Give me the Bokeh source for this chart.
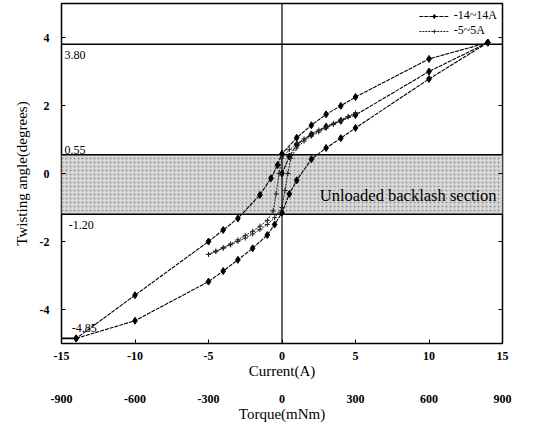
from bokeh.plotting import figure
from bokeh.models import Range1d, LinearAxis, FixedTicker, Legend, LegendItem, ColumnDataSource
from bokeh.core.properties import value
from bokeh.embed import file_html
from bokeh.resources import INLINE

SERIF = "Liberation Serif"

# ---------------- data ----------------
# -14~14A : initial loading curve, descending (upper) branch, ascending (lower) branch
a_init_i = [0, 0.5, 1, 2, 3, 4, 5, 10, 14]
a_init_t = [0.0, 0.5, 0.85, 1.15, 1.38, 1.55, 1.72, 3.0, 3.85]
a_up_i = [14, 10, 5, 4, 3, 2, 1, 0, -0.3, -0.75, -1.5, -3, -4, -5, -10, -14]
a_up_t = [3.85, 3.37, 2.25, 1.99, 1.74, 1.42, 1.05, 0.58, 0.25, -0.14, -0.63, -1.32, -1.66, -2.0, -3.58, -4.85]
a_lo_i = [-14, -10, -5, -4, -3, -2, -1, -0.5, 0, 0.5, 1, 2, 3, 4, 5, 10, 14]
a_lo_t = [-4.85, -4.33, -3.18, -2.87, -2.54, -2.2, -1.81, -1.5, -1.15, -0.6, -0.2, 0.42, 0.75, 1.04, 1.34, 2.78, 3.85]

# -5~5A loop
b_up_i = [5, 4.5, 4, 3.5, 3, 2.5, 2, 1.5, 1, 0.5, 0, -0.2, -0.4, -0.6, -1, -1.5, -2, -2.5, -3, -3.5, -4, -4.5, -5]
b_up_t = [1.78, 1.68, 1.58, 1.48, 1.38, 1.28, 1.16, 1.02, 0.88, 0.7, 0.45, 0.0, -0.6, -1.1, -1.38, -1.55, -1.7, -1.82, -1.95, -2.07, -2.18, -2.28, -2.38]
b_lo_i = [-5, -4.5, -4, -3.5, -3, -2.5, -2, -1.5, -1, -0.5, 0, 0.2, 0.4, 0.6, 1, 1.5, 2, 2.5, 3, 3.5, 4, 4.5, 5]
b_lo_t = [-2.38, -2.3, -2.2, -2.1, -2.0, -1.9, -1.78, -1.65, -1.5, -1.3, -1.0, -0.5, 0.0, 0.45, 0.75, 0.95, 1.1, 1.22, 1.33, 1.44, 1.55, 1.66, 1.78]

# reference levels
ref_y = [3.80, 0.55, -1.20, -4.85]
ref_x0 = [-15, -15, -15, -15]
ref_x1 = [15, 15, 15, -14]
ref_text = ["3.80", "0.55", "-1.20", "-4.85"]
band_lo, band_hi = -1.20, 0.55

x_ticks = [-15, -10, -5, 0, 5, 10, 15]
y_ticks = [-4, -2, 0, 2, 4]
torque_ticks = [-900, -600, -300, 0, 300, 600, 900]

# ---------------- figure ----------------
p = figure(width=530, height=424, x_range=Range1d(-15, 15), y_range=Range1d(-5, 5),
           output_backend="svg", toolbar_location=None,
           min_border_left=61, min_border_right=28, min_border_top=3, min_border_bottom=0)
p.background_fill_color = "white"
p.grid.visible = False
p.outline_line_color = "black"
p.outline_line_width = 1.5

# shaded backlash band
p.quad(left=[-15], right=[15], bottom=[band_lo], top=[band_hi],
       fill_color="#d8d8d8", line_color=None,
       hatch_pattern="dot", hatch_color="#909090", hatch_scale=4, hatch_weight=1)

# reference lines
p.segment(x0=ref_x0, y0=ref_y, x1=ref_x1, y1=ref_y, line_color="black", line_width=1.6)
p.segment(x0=[0], y0=[-5], x1=[0], y1=[5], line_color="black", line_width=1.2)

# labels of the levels
p.text(x=[-14.8, -14.5], y=[ref_y[0], ref_y[2]], text=[ref_text[0], ref_text[2]],
       text_font=value(SERIF), text_font_size="12px", text_baseline="top", y_offset=7)
p.text(x=[-14.8], y=[ref_y[1]], text=[ref_text[1]],
       text_font=value(SERIF), text_font_size="12px", text_baseline="bottom", y_offset=-1)
p.text(x=[-14.3], y=[ref_y[3]], text=[ref_text[3]],
       text_font=value(SERIF), text_font_size="12px", text_baseline="bottom", y_offset=-6)
p.text(x=[14.6], y=[-0.64], text=["Unloaded backlash section"], text_font=value(SERIF),
       text_font_size="16.5px", text_align="right", text_baseline="middle")

# series -14~14A
a_lines = []
a_marks = []
for xs, ys in [(a_init_i, a_init_t), (a_up_i, a_up_t), (a_lo_i, a_lo_t)]:
    src = ColumnDataSource(dict(x=xs, y=ys))
    a_lines.append(p.line("x", "y", source=src, line_color="black", line_width=1.1, line_dash="4 1"))
    a_marks.append(p.scatter("x", "y", source=src, marker="diamond", size=7,
                             fill_color="black", line_color="black"))

# series -5~5A
b_lines = []
b_marks = []
for xs, ys in [(b_up_i, b_up_t), (b_lo_i, b_lo_t)]:
    src = ColumnDataSource(dict(x=xs, y=ys))
    b_lines.append(p.line("x", "y", source=src, line_color="#222222", line_width=1, line_dash="2 1"))
    b_marks.append(p.scatter("x", "y", source=src, marker="cross", size=5,
                             line_color="#222222", line_width=1))

legend = Legend(items=[LegendItem(label="-14~14A", renderers=[a_lines[0], a_marks[0]]),
                       LegendItem(label="-5~5A", renderers=[b_lines[0], b_marks[0]])],
                location="top_right")
legend.label_text_font = SERIF
legend.label_text_font_size = "12px"
legend.label_text_color = "black"
legend.background_fill_alpha = 0
legend.border_line_alpha = 0
legend.glyph_height = 10
legend.glyph_width = 30
legend.label_height = 10
legend.spacing = 0
legend.padding = 2
legend.margin = 3
p.add_layout(legend)


def style_axis(ax):
    ax.axis_line_color = None
    ax.minor_tick_line_color = None
    ax.major_label_text_font = SERIF
    ax.major_label_text_font_style = "bold"
    ax.major_label_text_font_size = "12px"
    ax.major_label_text_color = "black"
    ax.axis_label_text_font = SERIF
    ax.axis_label_text_font_style = "normal"
    ax.axis_label_text_font_size = "15px"
    ax.axis_label_text_color = "black"


# primary axes
for ax in [p.xaxis[0], p.yaxis[0]]:
    style_axis(ax)
    ax.major_tick_in = 4
    ax.major_tick_out = 0
    ax.major_tick_line_color = "black"

p.xaxis[0].ticker = FixedTicker(ticks=x_ticks)
p.xaxis[0].major_label_overrides = {t: str(t) for t in x_ticks}
p.xaxis[0].axis_label = "Current(A)"
p.xaxis[0].major_label_standoff = 8
p.xaxis[0].axis_label_standoff = 0

p.yaxis[0].ticker = FixedTicker(ticks=y_ticks)
p.yaxis[0].major_label_overrides = {t: str(t) for t in y_ticks}
p.yaxis[0].axis_label = "Twisting angle(degrees)"
p.yaxis[0].major_label_standoff = 12
p.yaxis[0].axis_label_standoff = 7

# right axis: ticks only
r_ax = LinearAxis(ticker=FixedTicker(ticks=y_ticks), axis_line_color=None,
                  major_tick_in=4, major_tick_out=0, minor_tick_line_color=None,
                  major_tick_line_color="black", major_label_standoff=0,
                  major_label_overrides={t: "" for t in y_ticks})
p.add_layout(r_ax, "right")

# torque axis
p.extra_x_ranges = {"torque": Range1d(-900, 900)}
t_ax = LinearAxis(x_range_name="torque", ticker=FixedTicker(ticks=torque_ticks),
                  axis_label="Torque(mNm)",
                  major_label_overrides={t: str(t) for t in torque_ticks})
style_axis(t_ax)
t_ax.major_tick_line_color = None
t_ax.major_label_standoff = 7
t_ax.axis_label_standoff = 0
p.add_layout(t_ax, "below")

open("out.html", "w").write(file_html(p, INLINE))
